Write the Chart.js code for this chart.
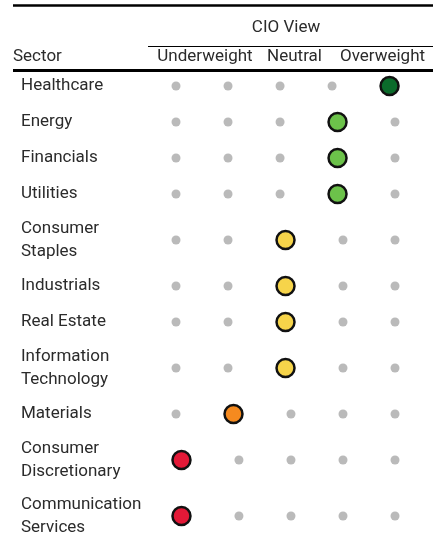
<!DOCTYPE html>
<html>
<head>
<meta charset="utf-8">
<script src="https://cdn.jsdelivr.net/npm/chart.js@4.4.1/dist/chart.umd.min.js"></script>
<style>
  html, body { margin: 0; padding: 0; background: #fff; }
</style>
</head>
<body>
<canvas id="cioChart" width="433" height="543"></canvas>
<script>
// sectors, top to bottom (two-line labels as arrays)
const sectors = [
  ['Healthcare'], ['Energy'], ['Financials'], ['Utilities'],
  ['Consumer', 'Staples'], ['Industrials'], ['Real Estate'],
  ['Information', 'Technology'], ['Materials'],
  ['Consumer', 'Discretionary'], ['Communication', 'Services']
];
// CIO view on a 5-step scale: 0 = most underweight ... 4 = most overweight
const cioView = [4, 3, 3, 3, 2, 2, 2, 2, 1, 0, 0];
const viewColors = ['#e31937', '#f58a1f', '#f6d44a', '#6cc24a', '#0b6b2b'];
const viewHeaders = ['Underweight', 'Neutral', 'Overweight'];

const FONT = 'Roboto, "Open Sans", sans-serif';
const TEXT = '#2b2b2b';

// row heights depend on how many lines the label has
const rowCenters = [];
let rowTop = 0;
sectors.forEach(s => {
  const h = s.length > 1 ? 56 : 36;
  rowCenters.push(rowTop + h / 2);
  rowTop += h;
});

// the big dot pushes the dots after it a little to the right
const SHIFT = 0.105;
const grayPts = [];
const viewPts = [];
const viewFill = [];
sectors.forEach((s, i) => {
  const v = cioView[i];
  for (let slot = 0; slot < 5; slot++) {
    const x = slot + (slot > v ? 2 * SHIFT : slot === v ? SHIFT : 0);
    if (slot === v) {
      viewPts.push({ x: x, y: rowCenters[i] });
      viewFill.push(viewColors[v]);
    } else {
      grayPts.push({ x: x, y: rowCenters[i] });
    }
  }
});

const header = {
  id: 'header',
  afterDraw(chart) {
    const ctx = chart.ctx;
    const rule = (x1, y, x2, w) => {
      ctx.beginPath();
      ctx.lineWidth = w;
      ctx.moveTo(x1, y);
      ctx.lineTo(x2, y);
      ctx.stroke();
    };
    ctx.save();
    ctx.strokeStyle = '#000';
    rule(13, 5.5, 433, 2.5);
    rule(148, 46.5, 433, 1.2);
    rule(13, 70.5, 433, 3);

    ctx.fillStyle = TEXT;
    ctx.font = '17px ' + FONT;
    ctx.textBaseline = 'alphabetic';
    ctx.textAlign = 'center';
    ctx.fillText('CIO View', 286, 32);
    const centers = [205, 294.5, 382.5];
    viewHeaders.forEach((t, i) => ctx.fillText(t, centers[i], 61));
    ctx.textAlign = 'left';
    ctx.fillText('Sector', 13, 61);
    ctx.restore();
  }
};

new Chart(document.getElementById('cioChart').getContext('2d'), {
  type: 'scatter',
  data: {
    datasets: [
      {
        label: 'Other',
        data: grayPts,
        pointRadius: 4.5,
        pointHoverRadius: 4.5,
        backgroundColor: '#bababa',
        borderWidth: 0
      },
      {
        label: 'CIO View',
        data: viewPts,
        pointRadius: 9,
        pointHoverRadius: 9,
        backgroundColor: viewFill,
        borderColor: '#111',
        borderWidth: 2.5
      }
    ]
  },
  options: {
    responsive: false,
    animation: false,
    layout: { autoPadding: false, padding: { left: 21, top: 68, right: 0, bottom: 0 } },
    plugins: {
      legend: { display: false },
      tooltip: { enabled: false }
    },
    scales: {
      x: { type: 'linear', min: -0.5, max: 4.94, display: false },
      y: {
        type: 'linear',
        reverse: true,
        min: 0,
        max: 475,
        grid: { display: false },
        border: { display: false },
        afterBuildTicks: s => { s.ticks = rowCenters.map(v => ({ value: v })); },
        afterFit: s => {
          s.width = 129;
          s.paddingTop = 0;
          s.paddingBottom = 0;
        },
        ticks: {
          autoSkip: false,
          crossAlign: 'far',
          padding: 0,
          color: TEXT,
          font: { family: FONT, size: 17, lineHeight: 1.35 },
          callback: (v, i) => sectors[i]
        }
      }
    }
  },
  plugins: [header]
});
</script>
</body>
</html>
